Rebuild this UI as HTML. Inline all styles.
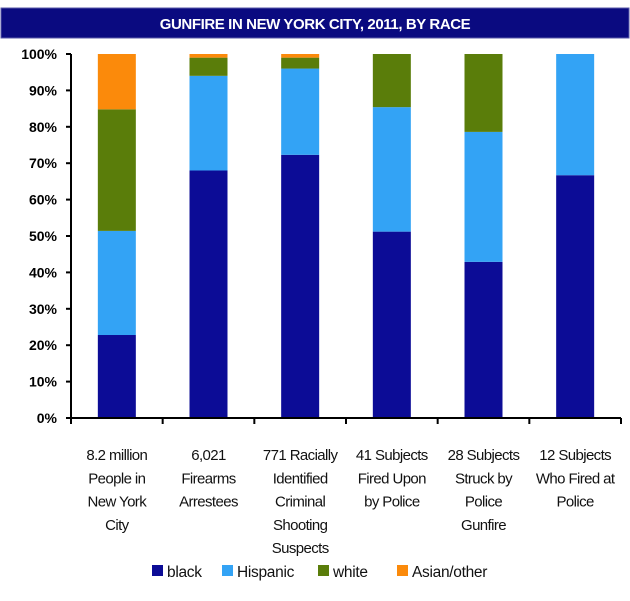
<!DOCTYPE html>
<html><head><meta charset="utf-8"><style>
body{margin:0;background:#fff;}
svg text{font-family:"Liberation Sans",sans-serif;}
</style></head><body>
<svg width="630" height="596">
<rect x="0" y="0" width="630" height="596" fill="#fff"/>
<rect x="1" y="8" width="628" height="30" fill="#0a0a80" stroke="#5a5aa8"/>
<text x="315" y="29" text-anchor="middle" fill="#fff" font-size="15" font-weight="bold" letter-spacing="-0.4">GUNFIRE IN NEW YORK CITY, 2011, BY RACE</text>
<g id="plot"></g>
</svg>
<script>
const categories=[["8.2 million","People in","New York","City"],["6,021","Firearms","Arrestees"],["771 Racially","Identified","Criminal","Shooting","Suspects"],["41 Subjects","Fired Upon","by Police"],["28 Subjects","Struck by","Police","Gunfire"],["12 Subjects","Who Fired at","Police"]];
const seriesNames=["black","Hispanic","white","Asian/other"];
const black=[22.8,68,72.3,51.2,42.9,66.7];
const hispanic=[28.6,26,23.7,34.2,35.7,33.3];
const white=[33.4,5,3,14.6,21.4,0];
const asian=[15.2,1,1,0,0,0];
const yTicks=[0,10,20,30,40,50,60,70,80,90,100];
const colors=["#0c0c96","#33a3f5","#5a7d0a","#fb8a0b"];
const ns="http://www.w3.org/2000/svg";
const g=document.getElementById('plot');
const x0=71,x1=621,yTop=54,yBot=418;
const y=v=>yBot-(v/100)*(yBot-yTop);
const bw=(x1-x0)/categories.length;
const xc=i=>x0+bw*(i+0.5);
function mk(t,a){const e=document.createElementNS(ns,t);for(const k in a)e.setAttribute(k,a[k]);g.appendChild(e);return e;}
const series=[black,hispanic,white,asian];
categories.forEach((c,i)=>{let acc=0;series.forEach((s,j)=>{const v=s[i];if(v>0){const r=mk('rect',{x:xc(i)-19,y:y(acc+v),width:38,height:y(acc)-y(acc+v),fill:colors[j]});

}acc+=v;});
c.forEach((ln,k)=>{const t=mk('text',{x:xc(i),y:460+k*23.3,'text-anchor':'middle','font-size':'15','letter-spacing':'-0.6',fill:'#111'});t.textContent=ln;

});});
let ax=mk('line',{x1:x0,y1:yTop,x2:x0,y2:yBot,stroke:'#000','stroke-width':2});


ax=mk('line',{x1:x0,y1:yBot,x2:x1,y2:yBot,stroke:'#000','stroke-width':2});


yTicks.forEach(v=>{mk('line',{x1:x0-5,y1:y(v),x2:x0,y2:y(v),stroke:'#000','stroke-width':2});
const t=mk('text',{x:57,y:y(v)+5,'text-anchor':'end','font-size':'14','font-weight':'bold',fill:'#000'});t.textContent=v+'%';

});
for(let i=0;i<=categories.length;i++)mk('line',{x1:x0+bw*i,y1:yBot,x2:x0+bw*i,y2:yBot+6,stroke:'#000','stroke-width':2});
const lx=[152,222,318,397];
seriesNames.forEach((n,j)=>{const r=mk('rect',{x:lx[j],y:565,width:11,height:11,fill:colors[j]});


const t=mk('text',{x:lx[j]+15,y:577,'font-size':'15.5','letter-spacing':'-0.3',fill:'#111'});t.textContent=n;

});
</script>
</body></html>
